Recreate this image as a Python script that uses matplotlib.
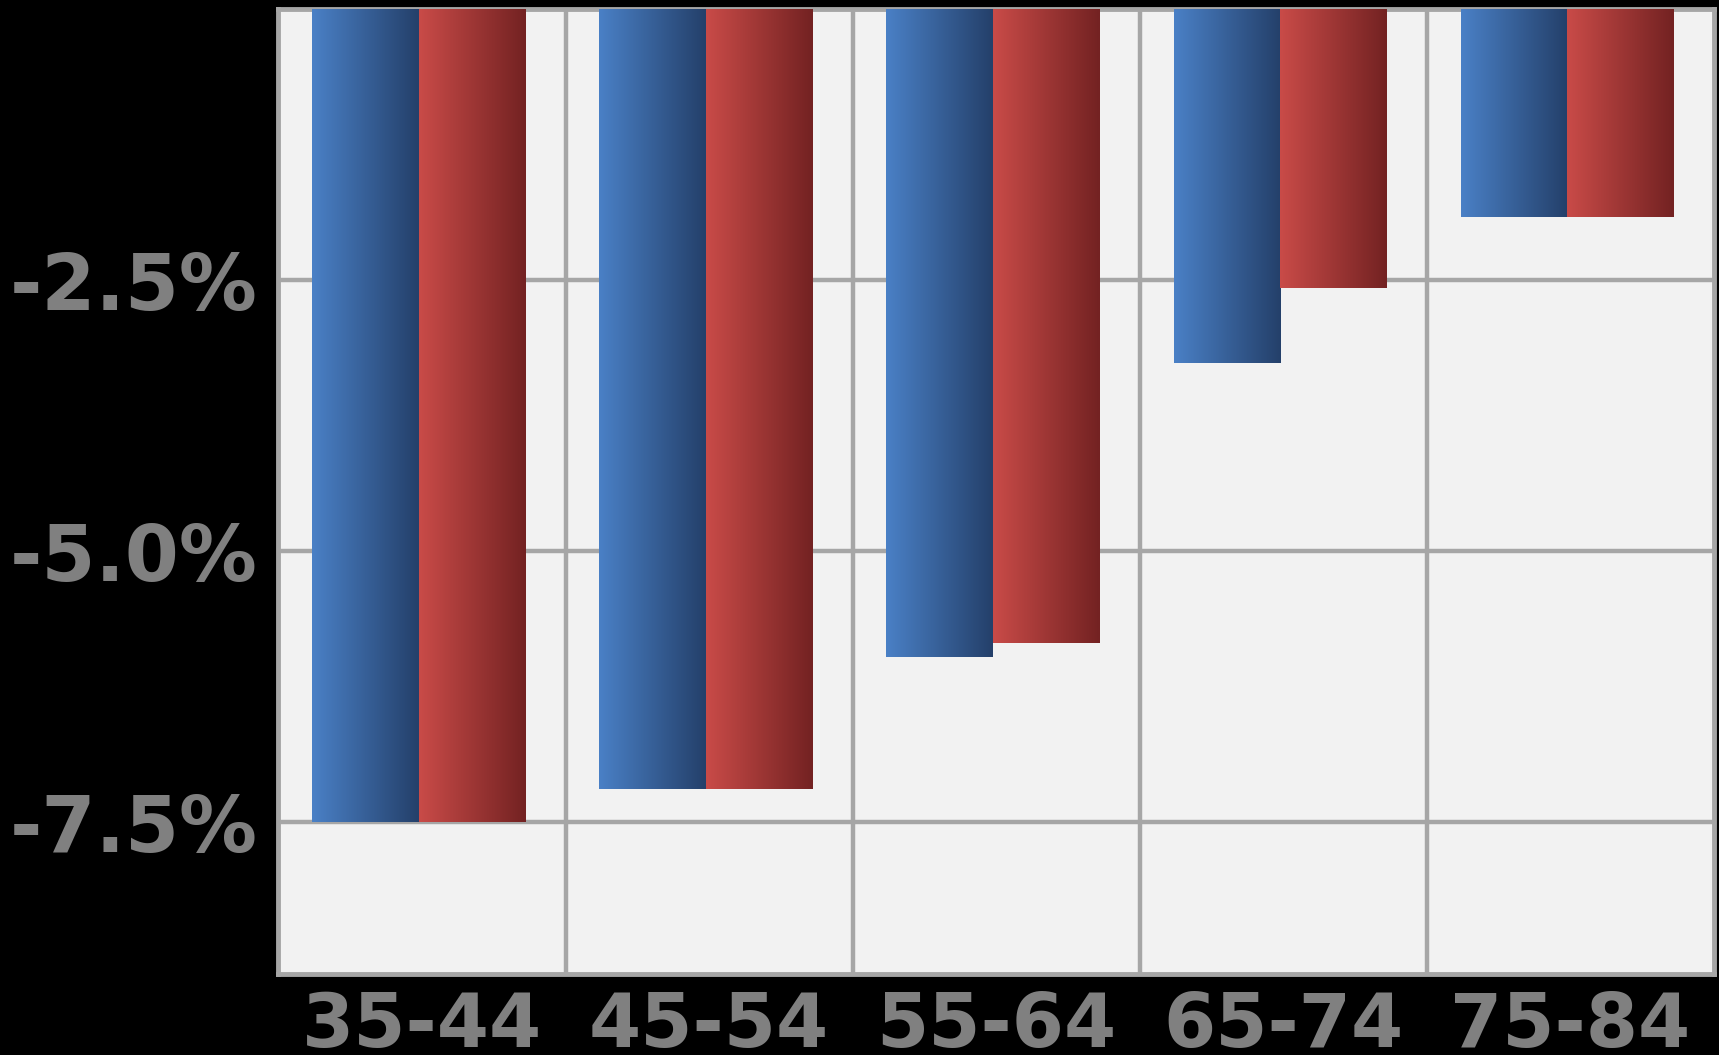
import numpy as np
import matplotlib.pyplot as plt
from matplotlib.colors import LinearSegmentedColormap

# Grupos de edad y variación porcentual de cada serie
grupos = ['35-44', '45-54', '55-64', '65-74', '75-84']
serie_azul = [-7.50, -7.20, -5.98, -3.27, -1.92]
serie_roja = [-7.50, -7.20, -5.85, -2.57, -1.92]

ancho = 0.37
desfase = -0.012  # las barras quedan un pelín a la izquierda del centro
gris = '#a6a6a6'

# Degradados horizontales (claro a la izquierda, oscuro a la derecha)
cmap_azul = LinearSegmentedColormap.from_list('azul', ['#4a80c6', '#24406a'])
cmap_rojo = LinearSegmentedColormap.from_list('rojo', ['#c94b48', '#732222'])

fig = plt.figure(figsize=(17.19, 10.55), dpi=100, facecolor='black')
ax = fig.add_axes([0.162, 0.077, 0.835, 0.9145])
ax.set_facecolor('#f2f2f2')

x = np.arange(len(grupos))
barras_azul = ax.bar(x + desfase - ancho / 2, serie_azul, ancho,
                     facecolor='none', edgecolor='none', zorder=3)
barras_roja = ax.bar(x + desfase + ancho / 2, serie_roja, ancho,
                     facecolor='none', edgecolor='none', zorder=3)

gradiente = np.linspace(0, 1, 256).reshape(1, -1)
for barras, cmap in [(barras_azul, cmap_azul), (barras_roja, cmap_rojo)]:
    for b in barras:
        x0, y0 = b.get_x(), b.get_y()
        w, h = b.get_width(), b.get_height()
        img = ax.imshow(gradiente, cmap=cmap, aspect='auto', zorder=3,
                        extent=[x0, x0 + w, y0 + h, y0], interpolation='bilinear')
        img.set_clip_path(b)

ax.set_xlim(-0.5, len(grupos) - 0.5)
ax.set_ylim(-8.9, 0)

ax.set_yticks([-7.5, -5.0, -2.5])
ax.set_yticklabels(['-7.5%', '-5.0%', '-2.5%'])
ax.set_xticks(x)
ax.set_xticklabels(grupos)
ax.set_xticks(x[:-1] + 0.5, minor=True)

ax.grid(axis='y', which='major', color=gris, linewidth=3.2, zorder=1)
ax.grid(axis='x', which='minor', color=gris, linewidth=3.2, zorder=1)
ax.set_axisbelow(True)

ax.tick_params(axis='both', which='both', length=0)
ax.tick_params(axis='y', pad=15)
ax.tick_params(axis='x', pad=12)
for lab in ax.get_xticklabels():
    lab.set_fontsize(54)
    lab.set_fontweight('bold')
    lab.set_color('#808080')
for lab in ax.get_yticklabels():
    lab.set_fontsize(56)
    lab.set_fontweight('bold')
    lab.set_color('#808080')

for s in ax.spines.values():
    s.set_color(gris)
    s.set_linewidth(3.5)

fig.savefig('out.png', dpi=100, facecolor='black')
